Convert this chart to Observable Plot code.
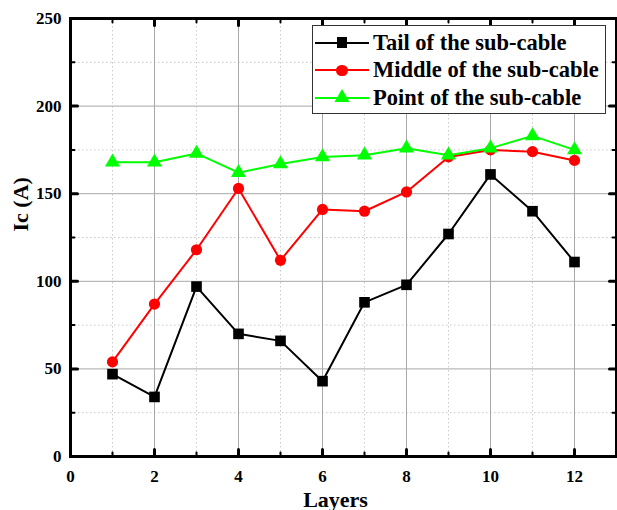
<!DOCTYPE html>
<html>
<head>
<meta charset="utf-8">
<script src="https://cdn.jsdelivr.net/npm/d3@7"></script>
<script src="https://cdn.jsdelivr.net/npm/@observablehq/plot@0.6"></script>
<style>
  html, body { margin: 0; padding: 0; background: #fff; }
  #wrap { position: relative; width: 617px; height: 510px; font-family: "Liberation Serif", "Times New Roman", serif; }
  #frameBox { position: absolute; left: 69px; top: 17px; width: 549px; height: 441px; border: 3px solid #000; box-sizing: border-box; pointer-events: none; }
  #legend { position: absolute; left: 312px; top: 25px; width: 294px; height: 89px; border: 1px solid #333; background: #fff; box-sizing: border-box; padding-top: 3px; }
  .row { display: flex; align-items: center; height: 27.5px; }
  .sample { position: relative; flex: none; width: 56px; height: 20px; margin-left: 1px; }
  .sample .ln { position: absolute; left: 1px; top: 9px; width: 54px; height: 2px; }
  .sample .mk { position: absolute; }
  .row span { font-size: 22.5px; font-weight: bold; margin-left: 3px; line-height: 1; color: #000; white-space: nowrap; }
</style>
</head>
<body>
<div id="wrap"></div>
<script>
const layers = [1, 2, 3, 4, 5, 6, 7, 8, 9, 10, 11, 12];
const tailValues   = [47, 34, 97, 70, 66, 43, 88, 98, 127, 161, 140, 111];
const middleValues = [54, 87, 118, 153, 112, 141, 140, 151, 171, 175, 174, 169];
const pointValues  = [168, 168, 173, 162, 167, 171, 172, 176, 172, 176, 183, 175];
const seriesNames = ["Tail of the sub-cable", "Middle of the sub-cable", "Point of the sub-cable"];
const seriesColors = ["#000000", "#ff0000", "#00ff00"];
const seriesSymbols = ["square", "circle", "triangle"];
const xMajorTicks = [0, 2, 4, 6, 8, 10, 12];
const xMinorTicks = [1, 3, 5, 7, 9, 11];
const yMajorTicks = [0, 50, 100, 150, 200, 250];
const yMinorTicks = [25, 75, 125, 175, 225];
const xDomain = [0, 13];
const yDomain = [0, 250];
const xLabel = "Layers";
const yLabel = "Ic (A)";

const allSeries = [tailValues, middleValues, pointValues];
const data = allSeries.flatMap((vals, s) => layers.map((l, i) => ({layer: l, value: vals[i], series: seriesNames[s]})));

const font = "Liberation Serif";
const dotR = [6, 5.6, 5.6];
const seriesMarks = [];
seriesNames.forEach((name, s) => {
  const d = data.filter(r => r.series === name);
  seriesMarks.push(Plot.line(d, {x: "layer", y: "value", stroke: seriesColors[s], strokeWidth: 2}));
  seriesMarks.push(Plot.dot(d, {x: "layer", y: "value", fill: seriesColors[s], stroke: "none", symbol: () => seriesSymbols[s], r: dotR[s]}));
});

const tickShape = {draw(context, l) { context.moveTo(0, 0); context.lineTo(0, -l); }};
const inwardTicks = (values, side, len, sw) => {
  const o = {length: len, anchor: "start", shape: tickShape, stroke: "#000", strokeWidth: sw};
  if (side === "bottom") return Plot.vector(values, {...o, x: d => d, y: () => yDomain[0], rotate: 0});
  if (side === "top") return Plot.vector(values, {...o, x: d => d, y: () => yDomain[1], rotate: 180});
  if (side === "left") return Plot.vector(values, {...o, y: d => d, x: () => xDomain[0], rotate: 90});
  return Plot.vector(values, {...o, y: d => d, x: () => xDomain[1], rotate: -90});
};

const chart = Plot.plot({
  width: 617,
  height: 510,
  marginLeft: 70,
  marginRight: 1,
  marginTop: 18,
  marginBottom: 54,
  style: {fontFamily: font, color: "#000", background: "#fff"},
  x: {domain: xDomain},
  y: {domain: yDomain},
  symbol: {type: "identity"},
  marks: [
    Plot.ruleX(xMinorTicks, {stroke: "#c8c8c8", strokeDasharray: "1.5,2.5", strokeWidth: 1}),
    Plot.ruleY(yMinorTicks, {stroke: "#c8c8c8", strokeDasharray: "1.5,2.5", strokeWidth: 1}),
    Plot.ruleX(xMajorTicks.filter(v => v > 0), {stroke: "#a8a8a8", strokeWidth: 1}),
    Plot.ruleY(yMajorTicks.filter(v => v > 0 && v < yDomain[1]), {stroke: "#a8a8a8", strokeWidth: 1}),
    ...seriesMarks,
    Plot.frame({stroke: "#000", strokeWidth: 3}),
    inwardTicks(xMajorTicks, "bottom", 7, 3),
    inwardTicks(xMinorTicks, "bottom", 4, 2),
    inwardTicks(xMajorTicks, "top", 7, 3),
    inwardTicks(xMinorTicks, "top", 4, 2),
    inwardTicks(yMajorTicks, "left", 7, 3),
    inwardTicks(yMinorTicks, "left", 4, 2),
    inwardTicks(yMajorTicks, "right", 7, 3),
    inwardTicks(yMinorTicks, "right", 4, 2),
    Plot.axisX({ticks: xMajorTicks, anchor: "bottom", tickSize: 0, tickPadding: 13, fontSize: 17, fontWeight: "bold", tickFormat: d => String(d), label: null}),
    Plot.axisY({ticks: yMajorTicks, anchor: "left", tickSize: 0, tickPadding: 9, fontSize: 17, fontWeight: "bold", tickFormat: d => String(d), label: null}),
    Plot.text([xLabel], {frameAnchor: "bottom", dx: -8, dy: 50, fontSize: 22, fontWeight: "bold", fill: "#000"}),
    Plot.text([yLabel], {frameAnchor: "left", dx: -50, dy: -6, rotate: -90, fontSize: 22, fontWeight: "bold", fill: "#000"})
  ]
});

const wrap = document.getElementById("wrap");
wrap.appendChild(chart);

// fallback outline of the plot frame (same place as Plot's frame)
const frameBox = document.createElement("div");
frameBox.id = "frameBox";
wrap.appendChild(frameBox);

// legend made of plain HTML elements
const legend = document.createElement("div");
legend.id = "legend";
seriesNames.forEach((name, s) => {
  const row = document.createElement("div");
  row.className = "row";
  const sample = document.createElement("div");
  sample.className = "sample";
  const ln = document.createElement("div");
  ln.className = "ln";
  ln.style.background = seriesColors[s];
  sample.appendChild(ln);
  const mk = document.createElement("div");
  mk.className = "mk";
  mk.style.background = seriesColors[s];
  const r = dotR[s];
  if (seriesSymbols[s] === "square") {
    const side = Math.sqrt(Math.PI) * r;
    Object.assign(mk.style, {width: side + "px", height: side + "px", left: (28 - side / 2) + "px", top: (10 - side / 2) + "px"});
  } else if (seriesSymbols[s] === "circle") {
    Object.assign(mk.style, {width: 2 * r + "px", height: 2 * r + "px", left: (28 - r) + "px", top: (10 - r) + "px", borderRadius: "50%"});
  } else {
    const side = Math.sqrt(Math.PI * r * r * 4 / Math.sqrt(3));
    const h = side * Math.sqrt(3) / 2;
    Object.assign(mk.style, {width: side + "px", height: h + "px", left: (28 - side / 2) + "px", top: (10 - h * 2 / 3) + "px", clipPath: "polygon(50% 0, 100% 100%, 0 100%)"});
  }
  sample.appendChild(mk);
  row.appendChild(sample);
  const span = document.createElement("span");
  span.textContent = name;
  row.appendChild(span);
  legend.appendChild(row);
});
wrap.appendChild(legend);
</script>
</body>
</html>
